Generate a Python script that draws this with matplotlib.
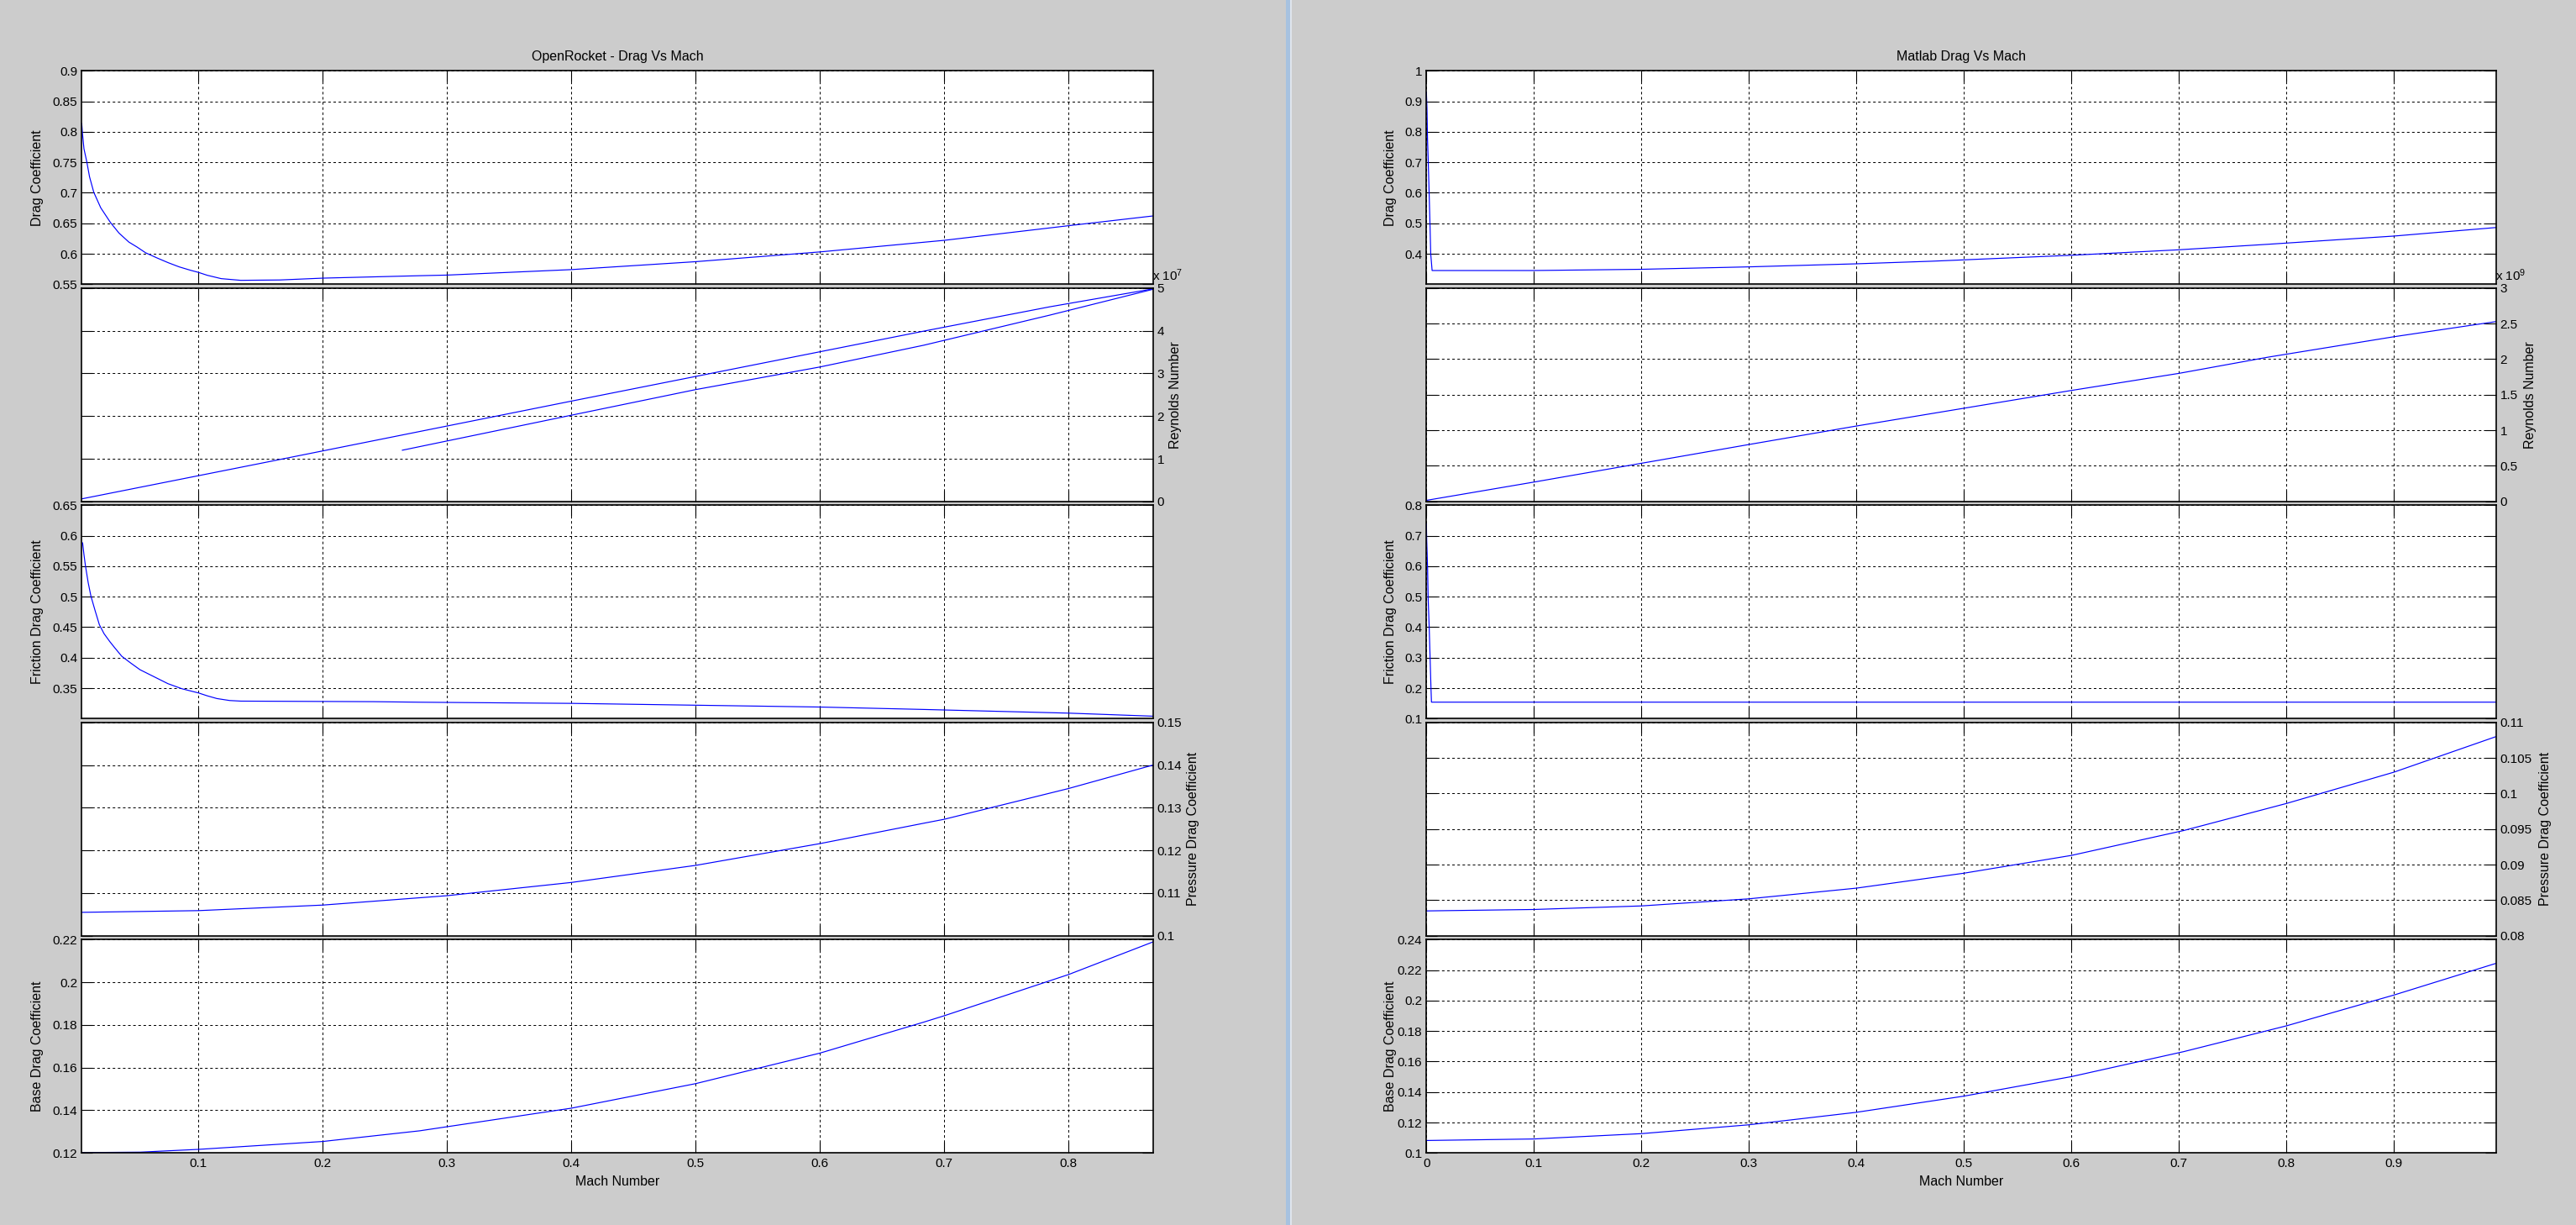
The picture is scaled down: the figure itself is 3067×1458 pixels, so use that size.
import matplotlib
matplotlib.use('Agg')
import matplotlib.pyplot as plt
from matplotlib.patches import Rectangle
from matplotlib.ticker import FuncFormatter

plt.rcParams['font.family'] = ['Liberation Sans', 'DejaVu Sans']
plt.rcParams['mathtext.default'] = 'regular'
plt.rcParams['lines.scale_dashes'] = False

# DATA -----------------------------------------------------------------------------------

# OpenRocket - left figure
or_cd_mach = [0.006, 0.0067, 0.0078, 0.0101, 0.0123, 0.0157, 0.0213, 0.0292, 0.036, 0.0439,
              0.0506, 0.0574, 0.0664, 0.0754, 0.0844, 0.0934, 0.1, 0.107, 0.1182, 0.134,
              0.1655, 0.2, 0.278, 0.3, 0.4, 0.5, 0.6, 0.7, 0.7876, 0.8, 0.868]
or_cd = [0.8137, 0.7953, 0.7722, 0.7506, 0.7261, 0.7008, 0.6754, 0.651, 0.6339, 0.6192,
         0.6109, 0.6016, 0.5933, 0.5855, 0.5785, 0.573, 0.5694, 0.5647, 0.5592, 0.5564,
         0.557, 0.560, 0.564, 0.565, 0.574, 0.587, 0.603, 0.622, 0.643, 0.646, 0.662]

or_re_up_mach = [0.006, 0.153, 0.4, 0.6836, 0.785, 0.868]
or_re_up = [0.06, 0.91, 2.35, 3.99, 4.56, 4.98]          # x 10^7
or_re_down_mach = [0.264, 0.4, 0.5, 0.6, 0.6836, 0.785, 0.868]
or_re_down = [1.20, 2.02, 2.62, 3.15, 3.66, 4.365, 4.97]  # x 10^7

or_fric_mach = [0.0067, 0.0078, 0.009, 0.0112, 0.0134, 0.0168, 0.0202, 0.024, 0.0286, 0.0326,
                0.0382, 0.045, 0.0529, 0.0641, 0.0754, 0.0866, 0.1, 0.107, 0.1148, 0.125,
                0.134, 0.241, 0.278, 0.4, 0.5, 0.6, 0.684, 0.8, 0.868]
or_fric = [0.5883, 0.569, 0.5506, 0.523, 0.5009, 0.4769, 0.454, 0.4392, 0.4263, 0.4161,
           0.4023, 0.3918, 0.3802, 0.3688, 0.3573, 0.349, 0.3421, 0.3374, 0.3329, 0.3297,
           0.3287, 0.3278, 0.3269, 0.325, 0.322, 0.319, 0.315, 0.309, 0.304]

or_pres_mach = [0.006, 0.1, 0.2, 0.3, 0.4, 0.5, 0.6, 0.684, 0.7, 0.8, 0.868]
or_pres = [0.1055, 0.1059, 0.1072, 0.1094, 0.1125, 0.1165, 0.1216, 0.1264, 0.1273, 0.1345, 0.1400]

or_base_mach = [0.006, 0.053, 0.1, 0.2, 0.278, 0.4, 0.5, 0.6, 0.684, 0.7, 0.8, 0.868]
or_base = [0.1202, 0.1204, 0.1217, 0.1254, 0.1304, 0.141, 0.1525, 0.1668, 0.1814, 0.1843, 0.2036, 0.2189]

# Matlab - right figure
ml_cd_mach = [0, 0.0005, 0.001, 0.0018, 0.0026, 0.0033, 0.004, 0.0053, 0.1, 0.2, 0.3, 0.4,
              0.47, 0.6, 0.7, 0.7826, 0.9, 0.995]
ml_cd = [0.93, 0.88, 0.78, 0.69, 0.59, 0.50, 0.40, 0.345, 0.345, 0.349, 0.357, 0.367,
         0.3755, 0.395, 0.413, 0.431, 0.458, 0.486]

ml_re_mach = [0, 0.1, 0.2045, 0.3, 0.4, 0.5, 0.6, 0.7, 0.7826, 0.9, 0.995]
ml_re = [0.015, 0.272, 0.548, 0.80, 1.06, 1.31, 1.56, 1.80, 2.027, 2.315, 2.528]  # x 10^9

ml_fric_mach = [0, 0.0003, 0.0011, 0.0016, 0.0026, 0.0034, 0.0042, 0.0047, 0.995]
ml_fric = [0.739, 0.684, 0.592, 0.495, 0.398, 0.302, 0.205, 0.154, 0.154]

ml_pres_mach = [0, 0.1, 0.2, 0.3, 0.4, 0.5, 0.6, 0.7045, 0.8, 0.9, 0.995]
ml_pres = [0.0835, 0.0837, 0.0842, 0.0852, 0.0867, 0.0888, 0.0913, 0.0948, 0.0986, 0.1030, 0.1080]

ml_base_mach = [0, 0.1, 0.2, 0.3, 0.4, 0.5, 0.6, 0.7045, 0.8, 0.9, 0.995]
ml_base = [0.1082, 0.1092, 0.1127, 0.1185, 0.1267, 0.1373, 0.1501, 0.1665, 0.1834, 0.2036, 0.2244]

# tick values
or_xticks = [0.1, 0.2, 0.3, 0.4, 0.5, 0.6, 0.7, 0.8]
ml_xticks = [0, 0.1, 0.2, 0.3, 0.4, 0.5, 0.6, 0.7, 0.8, 0.9]
or_yticks = [[0.55, 0.6, 0.65, 0.7, 0.75, 0.8, 0.85, 0.9],
             [0, 1, 2, 3, 4, 5],
             [0.35, 0.4, 0.45, 0.5, 0.55, 0.6, 0.65],
             [0.1, 0.11, 0.12, 0.13, 0.14, 0.15],
             [0.12, 0.14, 0.16, 0.18, 0.2, 0.22]]
ml_yticks = [[0.4, 0.5, 0.6, 0.7, 0.8, 0.9, 1],
             [0, 0.5, 1, 1.5, 2, 2.5, 3],
             [0.1, 0.2, 0.3, 0.4, 0.5, 0.6, 0.7, 0.8],
             [0.08, 0.085, 0.09, 0.095, 0.1, 0.105, 0.11],
             [0.1, 0.12, 0.14, 0.16, 0.18, 0.2, 0.22, 0.24]]
or_ylims = [(0.55, 0.9), (0, 5), (0.3, 0.65), (0.1, 0.15), (0.12, 0.22)]
ml_ylims = [(0.3, 1.0), (0, 3), (0.1, 0.8), (0.08, 0.11), (0.1, 0.24)]

Y_LABELS = ['Drag Coefficient', 'Reynolds Number', 'Friction Drag Coefficient',
            'Pressure Drag Coefficient', 'Base Drag Coefficient']

# STYLE / LAYOUT -------------------------------------------------------------------------

FIG_W, FIG_H, DPI = 3067, 1458, 100
BG = '#cccccc'
BLUE = '#0000ff'
FS = 11

ROW_TOPS = [84.3, 342.8, 601.3, 859.8, 1118.3]   # px from top
ROW_H = 254
PANELS = {'or': (97.3, 1372.7), 'ml': (1698.3, 2971.7)}

fig = plt.figure(figsize=(FIG_W / DPI, FIG_H / DPI), dpi=DPI, facecolor=BG)

# window divider between the two figures
fig.add_artist(Rectangle((1531 / FIG_W, 0), 4.7 / FIG_W, 1, transform=fig.transFigure,
                         color='#a7c2e0', lw=0))
fig.add_artist(Rectangle((1535.7 / FIG_W, 0), 2.6 / FIG_W, 1, transform=fig.transFigure,
                         color='#dfe5ec', lw=0))

fmt = FuncFormatter(lambda v, p: '%g' % v)


def make_axes(left, right, top):
    return fig.add_axes([left / FIG_W, 1 - (top + ROW_H) / FIG_H,
                         (right - left) / FIG_W, ROW_H / FIG_H])


def style_axes(ax, xlim, xticks, ylim, yticks, label, right_side, show_x, label_x):
    ax.set_facecolor('white')
    ax.set_xlim(*xlim)
    ax.set_ylim(*ylim)
    ax.set_xticks(xticks)
    ax.set_yticks(yticks)
    ax.xaxis.set_major_formatter(fmt)
    ax.yaxis.set_major_formatter(fmt)
    ax.tick_params(direction='in', length=9.2, width=0.8, colors='black', labelsize=FS,
                   top=True, bottom=True, left=True, right=True,
                   labelbottom=show_x, labelleft=not right_side, labelright=right_side)
    ax.tick_params(axis='y', pad=3.6)
    ax.tick_params(axis='x', pad=4)
    ax.grid(True, color='black', linestyle=(0, (2.2, 2.2)), linewidth=0.72)
    ax.set_axisbelow(True)
    for s in ax.spines.values():
        s.set_linewidth(1.2)
        s.set_color('black')
    ax.set_ylabel(label, fontsize=11.5)
    if right_side:
        ax.yaxis.set_label_position('right')
    ax.yaxis.set_label_coords(label_x, 0.5)
    if show_x:
        ax.set_xlabel('Mach Number', fontsize=11.5, labelpad=5)


# OPENROCKET (left) ---------------------------------------------------------------------

or_series = [[(or_cd_mach, or_cd)],
             [(or_re_up_mach, or_re_up), (or_re_down_mach, or_re_down)],
             [(or_fric_mach, or_fric)],
             [(or_pres_mach, or_pres)],
             [(or_base_mach, or_base)]]
or_label_x = [-0.0353, 1.0149, -0.0353, 1.0318, -0.0353]

or_axes = []
for i in range(5):
    ax = make_axes(*PANELS['or'], ROW_TOPS[i])
    for xs, ys in or_series[i]:
        ax.plot(xs, ys, color=BLUE, lw=0.85)
    style_axes(ax, (0.006, 0.868), or_xticks, or_ylims[i], or_yticks[i], Y_LABELS[i],
               i % 2 == 1, i == 4, or_label_x[i])
    or_axes.append(ax)

or_axes[0].set_title('OpenRocket - Drag Vs Mach', fontsize=11.5, pad=9)
or_axes[1].annotate('x 10$^{7}$', xy=(1, 1), xycoords='axes fraction', xytext=(-0.5, 6),
                    textcoords='offset points', ha='left', va='baseline', fontsize=FS)

# MATLAB (right) ------------------------------------------------------------------------

ml_series = [(ml_cd_mach, ml_cd), (ml_re_mach, ml_re), (ml_fric_mach, ml_fric),
             (ml_pres_mach, ml_pres), (ml_base_mach, ml_base)]
ml_label_x = [-0.028, 1.0262, -0.028, 1.0401, -0.028]

ml_axes = []
for i in range(5):
    ax = make_axes(*PANELS['ml'], ROW_TOPS[i])
    xs, ys = ml_series[i]
    ax.plot(xs, ys, color=BLUE, lw=0.85)
    style_axes(ax, (0, 0.995), ml_xticks, ml_ylims[i], ml_yticks[i], Y_LABELS[i],
               i % 2 == 1, i == 4, ml_label_x[i])
    ml_axes.append(ax)

ml_axes[0].set_title('Matlab Drag Vs Mach', fontsize=11.5, pad=9)
ml_axes[1].annotate('x 10$^{9}$', xy=(1, 1), xycoords='axes fraction', xytext=(-0.5, 6),
                    textcoords='offset points', ha='left', va='baseline', fontsize=FS)

fig.savefig('out.png', dpi=DPI, facecolor=BG)
